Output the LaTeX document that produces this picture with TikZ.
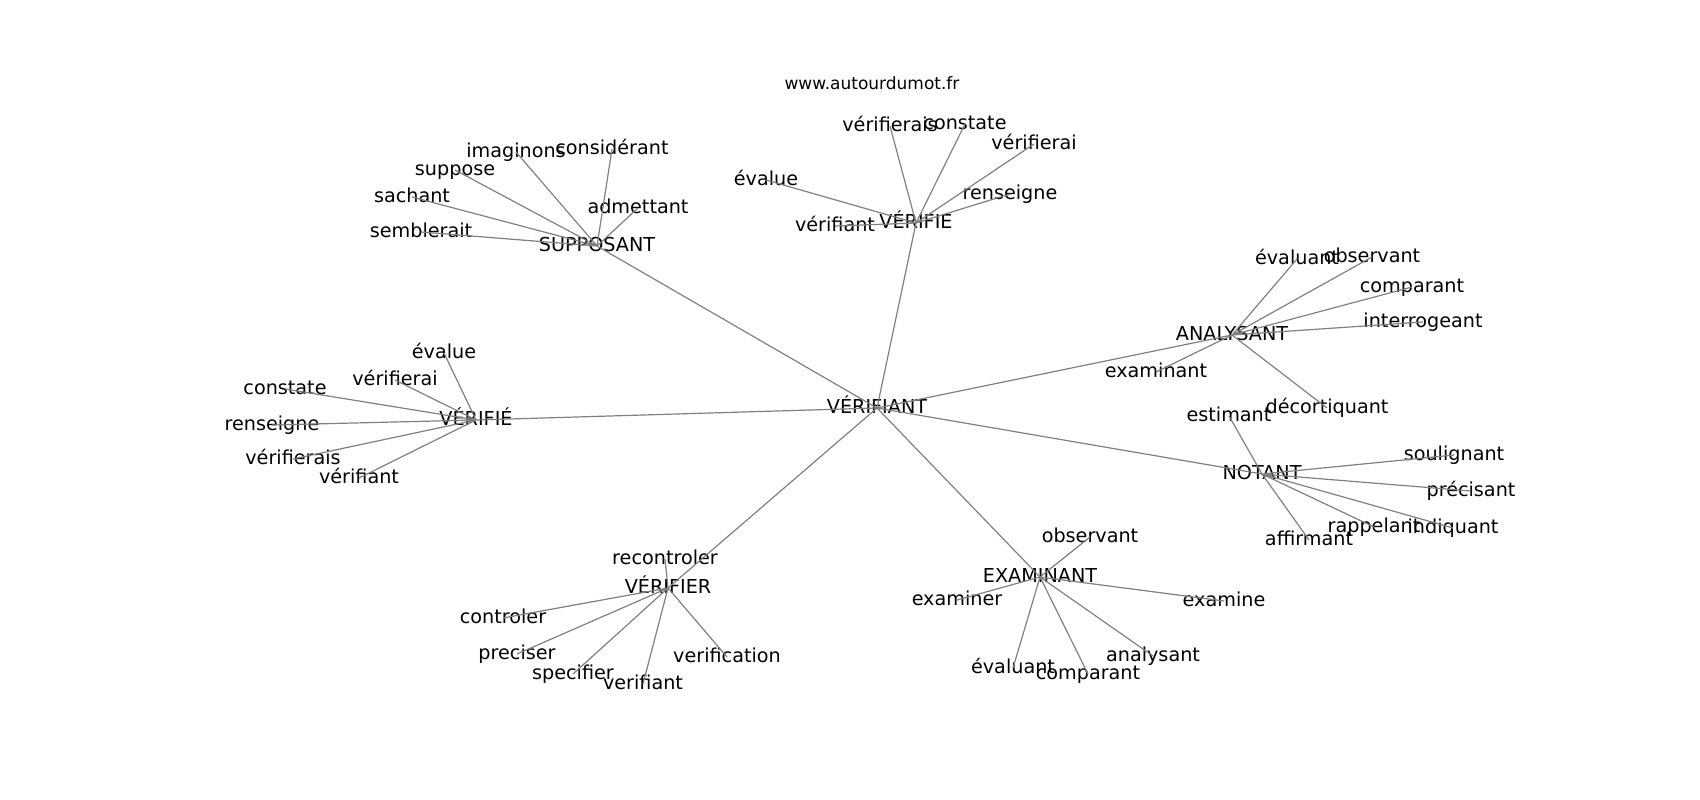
\documentclass[tikz,border=0pt]{standalone}
\usepackage{fontspec}
\setmainfont{DejaVu Sans}

\begin{document}
\begin{tikzpicture}[x=1pt,y=-1pt,
    word/.style={inner sep=0pt,text height=14.5pt,text depth=4pt,font=\fontsize{19.2}{22}\selectfont},
    link/.style={draw=black!50,line width=1.2pt}]
    \useasboundingbox (0,0) rectangle (1700,800);
    \node at (872,83) [inner sep=0pt,font=\fontsize{17}{20}\selectfont]{www.autourdumot.fr};
    % hubs
    \node (R) at (877,408) [word]{VÉRIFIANT};
    \node (S) at (597,246) [word]{SUPPOSANT};
    \node (E) at (916,223) [word]{VÉRIFIE};
    \node (A) at (1232,335) [word]{ANALYSANT};
    \node (V) at (476,420) [word]{VÉRIFIÉ};
    \node (N) at (1262,474) [word]{NOTANT};
    \node (F) at (668,588) [word]{VÉRIFIER};
    \node (X) at (1040,577) [word]{EXAMINANT};
    % SUPPOSANT
    \node (S1) at (516,152) [word]{imaginons};
    \node (S2) at (612,149) [word]{considérant};
    \node (S3) at (455,170) [word]{suppose};
    \node (S4) at (412,197) [word]{sachant};
    \node (S5) at (421,232) [word]{semblerait};
    \node (S6) at (638,208) [word]{admettant};
    % VÉRIFIE
    \node (E1) at (890,126) [word]{vérifierais};
    \node (E2) at (965,124) [word]{constate};
    \node (E3) at (1034,144) [word]{vérifierai};
    \node (E4) at (766,180) [word]{évalue};
    \node (E5) at (1010,194) [word]{renseigne};
    \node (E6) at (835,226) [word]{vérifiant};
    % ANALYSANT
    \node (A1) at (1297,259) [word]{évaluant};
    \node (A2) at (1372,257) [word]{observant};
    \node (A3) at (1412,287) [word]{comparant};
    \node (A4) at (1423,322) [word]{interrogeant};
    \node (A5) at (1156,372) [word]{examinant};
    \node (A6) at (1327,408) [word]{décortiquant};
    % NOTANT
    \node (N1) at (1229,416) [word]{estimant};
    \node (N2) at (1454,455) [word]{soulignant};
    \node (N3) at (1471,491) [word]{précisant};
    \node (N4) at (1453,528) [word]{indiquant};
    \node (N5) at (1374,527) [word]{rappelant};
    \node (N6) at (1309,540) [word]{affirmant};
    % VÉRIFIÉ
    \node (V1) at (444,353) [word]{évalue};
    \node (V2) at (395,380) [word]{vérifierai};
    \node (V3) at (285,389) [word]{constate};
    \node (V4) at (272,425) [word]{renseigne};
    \node (V5) at (293,459) [word]{vérifierais};
    \node (V6) at (359,478) [word]{vérifiant};
    % VÉRIFIER
    \node (F1) at (665,559) [word]{recontroler};
    \node (F2) at (503,618) [word]{controler};
    \node (F3) at (517,654) [word]{preciser};
    \node (F4) at (573,674) [word]{specifier};
    \node (F5) at (643,684) [word]{verifiant};
    \node (F6) at (727,657) [word]{verification};
    % EXAMINANT
    \node (X1) at (1090,537) [word]{observant};
    \node (X2) at (957,600) [word]{examiner};
    \node (X3) at (1224,601) [word]{examine};
    \node (X4) at (1153,656) [word]{analysant};
    \node (X5) at (1013,668) [word]{évaluant};
    \node (X6) at (1088,674) [word]{comparant};
    % edges
    \draw[link] (R.center) -- (S.center) (R.center) -- (E.center) (R.center) -- (A.center)
        (R.center) -- (V.center) (R.center) -- (N.center) (R.center) -- (F.center) (R.center) -- (X.center);
    \draw[link] (S.center) -- (S1.center) (S.center) -- (S2.center) (S.center) -- (S3.center)
        (S.center) -- (S4.center) (S.center) -- (S5.center) (S.center) -- (S6.center);
    \draw[link] (E.center) -- (E1.center) (E.center) -- (E2.center) (E.center) -- (E3.center)
        (E.center) -- (E4.center) (E.center) -- (E5.center) (E.center) -- (E6.center);
    \draw[link] (A.center) -- (A1.center) (A.center) -- (A2.center) (A.center) -- (A3.center)
        (A.center) -- (A4.center) (A.center) -- (A5.center) (A.center) -- (A6.center);
    \draw[link] (N.center) -- (N1.center) (N.center) -- (N2.center) (N.center) -- (N3.center)
        (N.center) -- (N4.center) (N.center) -- (N5.center) (N.center) -- (N6.center);
    \draw[link] (V.center) -- (V1.center) (V.center) -- (V2.center) (V.center) -- (V3.center)
        (V.center) -- (V4.center) (V.center) -- (V5.center) (V.center) -- (V6.center);
    \draw[link] (F.center) -- (F1.center) (F.center) -- (F2.center) (F.center) -- (F3.center)
        (F.center) -- (F4.center) (F.center) -- (F5.center) (F.center) -- (F6.center);
    \draw[link] (X.center) -- (X1.center) (X.center) -- (X2.center) (X.center) -- (X3.center)
        (X.center) -- (X4.center) (X.center) -- (X5.center) (X.center) -- (X6.center);
\end{tikzpicture}
\end{document}
